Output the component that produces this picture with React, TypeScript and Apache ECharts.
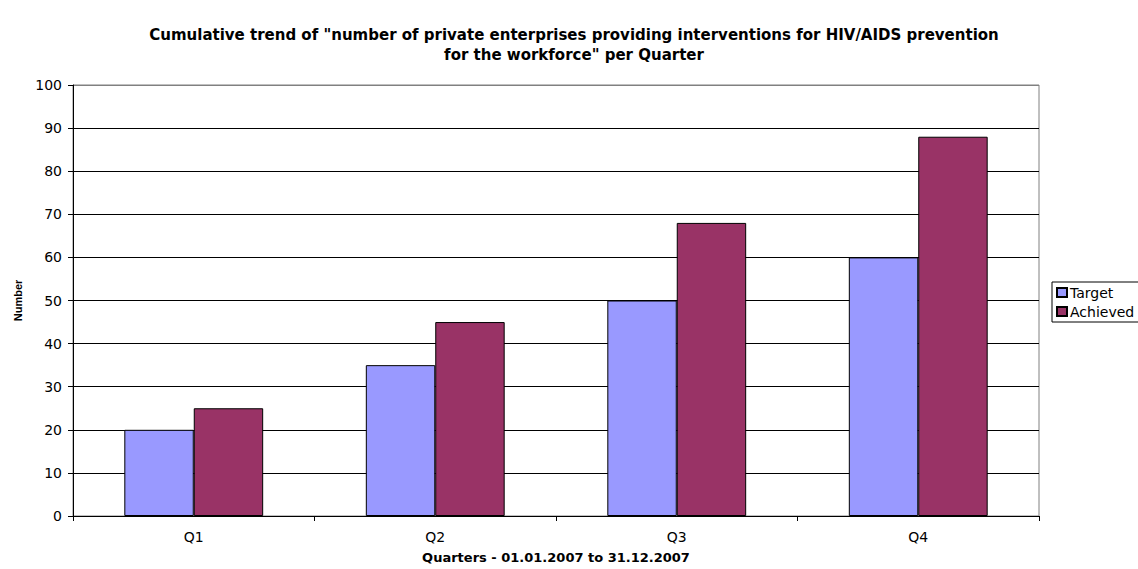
import React, { useEffect, useRef } from "react";
import * as echarts from "echarts";

const categories = ["Q1", "Q2", "Q3", "Q4"];
const targetValues = [20, 35, 50, 60];
const achievedValues = [25, 45, 68, 88];
const titleLines = [
  'Cumulative trend of "number of private enterprises providing interventions for HIV/AIDS prevention',
  'for the workforce" per Quarter',
];
const xAxisName = "Quarters - 01.01.2007 to 31.12.2007";
const yAxisName = "Number";

export default function App() {
  const ref = useRef<HTMLDivElement>(null);
  useEffect(() => {
    if (!ref.current) return;
    const chart = echarts.init(ref.current, null, { renderer: "svg" });
    const wide = "DejaVu Sans, Verdana, sans-serif";
    const arial = "Liberation Sans, Arial, sans-serif";
    const gridColors = ["#000", "#000", "#000", "#000", "#000", "#000", "#000", "#000", "#000", "#000", "#808080"];
    chart.setOption({
      animation: false,
      backgroundColor: "#fff",
      textStyle: { fontFamily: wide },
      title: {
        text: titleLines.join("\n"),
        left: 569,
        textAlign: "center",
        top: 20,
        textStyle: { fontSize: 15, fontWeight: "bold", color: "#000", lineHeight: 20, fontFamily: wide },
      },
      legend: {
        orient: "vertical",
        left: 1052,
        top: 282,
        itemWidth: 10,
        itemHeight: 9,
        itemGap: 4,
        padding: [3, 30, 3, 4],
        borderColor: "#000",
        borderWidth: 1,
        textStyle: { fontSize: 14, lineHeight: 15, color: "#000", fontFamily: wide, padding: [0, 0, 0, -2] },
        data: [
          { name: "Target", icon: "rect" },
          { name: "Achieved", icon: "rect" },
        ],
      },
      grid: {
        left: 73,
        right: 99,
        top: 85,
        bottom: 50,
        show: true,
        borderColor: "#808080",
        borderWidth: 1,
      },
      xAxis: {
        type: "category",
        data: categories,
        name: xAxisName,
        nameLocation: "middle",
        nameGap: 35,
        nameTextStyle: { fontSize: 13, fontWeight: "bold", color: "#000", fontFamily: wide },
        axisLine: { lineStyle: { color: "#000" } },
        axisTick: { show: true, length: 5, lineStyle: { color: "#000" } },
        axisLabel: { fontSize: 14, color: "#000", margin: 14, fontFamily: wide },
      },
      yAxis: {
        type: "value",
        min: 0,
        max: 100,
        interval: 10,
        name: yAxisName,
        nameLocation: "middle",
        nameGap: 50,
        nameRotate: 90,
        nameTextStyle: { fontSize: 11, fontWeight: "bold", color: "#000", fontFamily: arial },
        axisLine: { show: true, lineStyle: { color: "#000" } },
        axisTick: { show: true, length: 5, lineStyle: { color: "#000" } },
        axisLabel: { fontSize: 14, color: "#000", margin: 11, fontFamily: wide },
        splitLine: { show: true, lineStyle: { color: gridColors, width: 1 } },
      },
      series: [
        {
          name: "Target",
          type: "bar",
          data: targetValues,
          barGap: "0%",
          barCategoryGap: "42.5%",
          itemStyle: { color: "#9999ff", borderColor: "#000", borderWidth: 1 },
        },
        {
          name: "Achieved",
          type: "bar",
          data: achievedValues,
          barGap: "0%",
          barCategoryGap: "42.5%",
          itemStyle: { color: "#993366", borderColor: "#000", borderWidth: 1 },
        },
      ],
    });
    return () => chart.dispose();
  }, []);
  return (
    <div
      ref={ref}
      style={{ position: "fixed", left: 0, top: 0, width: 1138, height: 569 }}
    />
  );
}
